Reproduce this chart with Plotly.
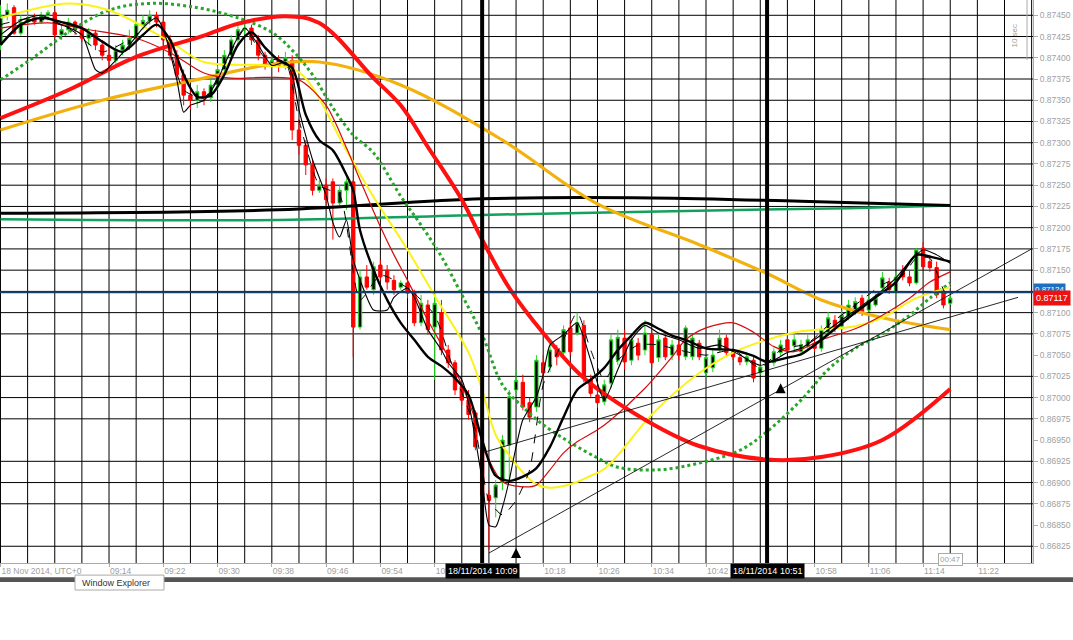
import plotly.graph_objects as go

# ---------------- data (prices in points of 0.00001) ----------------
START = "08:58"  # time of first 1-minute candle

open_pts = [87415,87450,87459,87429,87442,87447,87442,87450,87453,87427,
            87433,87442,87433,87423,87429,87415,87403,87397,87409,87415,
            87423,87439,87444,87450,87442,87421,87403,87380,87356,87350,
            87360,87353,87368,87386,87403,87421,87433,87435,87421,87403,
            87391,87397,87391,87397,87315,87297,87274,87244,87250,87254,
            87229,87244,87254,87083,87142,87127,87156,87150,87138,87130,
            87135,87123,87088,87109,87083,87100,87056,87041,87013,86997,
            86982,86938,86885,86882,86900,86944,87009,87018,86994,86989,
            87041,87036,87056,87053,87082,87076,87085,87021,87003,86995,
            87017,87044,87070,87044,87064,87056,87074,87047,87070,87050,
            87062,87048,87048,87064,87029,87035,87056,87070,87054,87047,
            87042,87044,87029,87035,87041,87053,87068,87061,87054,87060,
            87064,87058,87077,87091,87084,87096,87101,87117,87103,87109,
            87129,87136,87124,87148,87142,87135,87176,87160,87153,87123,
            87111]
high_pts = [87462,87464,87462,87450,87454,87452,87454,87456,87456,87439,
            87447,87444,87439,87435,87433,87421,87415,87415,87421,87433,
            87444,87450,87456,87454,87447,87427,87409,87386,87364,87368,
            87364,87374,87391,87409,87427,87439,87442,87439,87427,87407,
            87403,87403,87407,87403,87327,87303,87280,87256,87258,87258,
            87250,87258,87256,87150,87156,87160,87162,87156,87144,87138,
            87138,87127,87121,87115,87121,87115,87062,87044,87017,87009,
            86985,86944,86891,86903,86956,87009,87033,87027,87000,87050,
            87050,87062,87062,87085,87091,87100,87091,87027,87009,87021,
            87074,87080,87080,87074,87070,87091,87080,87074,87076,87068,
            87068,87085,87074,87068,87050,87056,87080,87074,87058,87050,
            87054,87050,87038,87044,87058,87068,87074,87074,87068,87074,
            87070,87085,87101,87097,87103,87115,87118,87121,87120,87122,
            87148,87141,87148,87156,87150,87176,87183,87168,87160,87129,
            87121]
low_pts = [87409,87444,87427,87426,87437,87439,87440,87444,87423,87421,
           87428,87427,87419,87415,87409,87397,87388,87393,87403,87409,
           87419,87433,87439,87436,87415,87397,87374,87344,87339,87341,
           87344,87348,87362,87380,87397,87415,87427,87415,87397,87386,
           87388,87383,87386,87303,87286,87262,87238,87241,87227,87186,
           87223,87221,87048,87080,87127,87121,87138,87127,87121,87127,
           87117,87084,87084,87074,87021,87050,87035,87003,86991,86974,
           86938,86879,86821,86859,86891,86903,87003,86985,86971,86983,
           87021,87030,87038,87047,87050,87073,87018,87001,86988,86991,
           87011,87038,87033,87038,87044,87050,87035,87042,87044,87044,
           87044,87044,87044,87044,87023,87030,87054,87049,87044,87038,
           87038,87018,87027,87030,87037,87049,87053,87056,87049,87056,
           87054,87054,87073,87077,87080,87091,87097,87096,87101,87107,
           87124,87122,87121,87138,87131,87133,87150,87148,87117,87105,
           87109]
close_pts = [87450,87456,87429,87442,87447,87442,87450,87453,87427,87433,
             87442,87433,87423,87429,87415,87403,87397,87409,87415,87423,
             87439,87444,87450,87442,87421,87403,87380,87356,87350,87360,
             87353,87368,87386,87403,87421,87433,87435,87421,87403,87391,
             87397,87391,87400,87315,87297,87274,87244,87250,87233,87229,
             87244,87254,87083,87142,87130,87154,87142,87136,87127,87135,
             87123,87088,87111,87080,87111,87056,87041,87009,86997,86980,
             86942,86885,86879,86897,86950,87001,87020,86989,86977,87044,
             87029,87056,87048,87080,87054,87088,87023,87005,86994,87015,
             87068,87071,87042,87068,87050,87076,87041,87068,87048,87062,
             87050,87082,87070,87048,87047,87050,87070,87053,87048,87042,
             87048,87023,87036,87041,87054,87062,87056,87068,87062,87068,
             87058,87080,87094,87082,87097,87109,87113,87101,87115,87117,
             87141,87127,87142,87142,87135,87174,87154,87153,87121,87109,
             87117]

# indicator lines: minute index -> value (points)
slow_red_idx = [0,10,20,30,35,42,47,55,59,63,68,71,75,80,86,95,103,113,121,130,140]
slow_red_pts = [87329,87362,87401,87426,87440,87449,87441,87376,87344,87295,87233,
                87186,87129,87076,87023,86974,86943,86927,86930,86950,87010]

orange_idx = [0,15,30,39,47,59,74,88,103,113,121,130,140]
orange_pts = [87315,87350,87376,87391,87395,87368,87303,87228,87180,87146,87115,87094,87080]

yellow_idx = [0,10,16,25,30,39,44,51,55,60,64,69,71,73,75,77,79,81,84,87,89,91,96,
              103,108,113,118,126,130,135,140]
yellow_pts = [87447,87464,87456,87419,87395,87391,87383,87291,87236,87174,87120,87053,
              87009,86956,86932,86912,86898,86894,86898,86908,86916,86932,86980,87029,
              87053,87068,87078,87084,87094,87117,87130]

gdot_idx = [0,5,10,16,22,29,35,40,43,46,49,52,55,59,62,65,68,71,74,77,80,84,88,91,97,
            103,109,113,118,122,126,130,134,137,140]
gdot_pts = [87374,87401,87430,87456,87464,87459,87447,87430,87409,87380,87341,87309,
            87288,87237,87203,87166,87121,87074,87015,86989,86968,86947,86929,86918,
            86915,86923,86938,86960,86997,87033,87058,87075,87097,87117,87135]

thin_red_idx = [0,7,13,20,25,30,34,39,44,48,51,53,56,58,60,63,66,68,70,72,74,77,79,81,
                83,85,88,90,95,99,101,104,108,111,114,117,121,126,130,134,137,140]
thin_red_pts = [87435,87441,87433,87423,87406,87382,87376,87377,87374,87344,87294,87256,
                87201,87168,87138,87091,87048,87015,86974,86927,86901,86895,86897,86915,
                86935,86948,86962,86974,87011,87048,87068,87082,87088,87077,87060,87054,
                87068,87081,87097,87117,87136,87148]

black_ma_idx = [0,3,6,9,12,15,18,21,23,25,27,29,31,33,35,37,39,41,43,45,47,49,51,52,53,
                55,57,59,61,63,65,67,69,71,73,75,77,79,81,83,85,87,89,91,93,95,97,99,101,
                104,108,111,113,116,118,121,125,129,132,135,137,140]
black_ma_pts = [87415,87439,87447,87442,87435,87419,87407,87427,87439,87421,87380,87354,
                87356,87380,87415,87430,87412,87397,87388,87333,87303,87291,87262,87244,
                87197,87150,87115,87088,87068,87048,87037,87023,87003,86950,86908,86902,
                86907,86917,86942,86977,87009,87021,87035,87056,87073,87088,87081,87073,
                87068,87058,87056,87049,87042,87047,87051,87068,87094,87118,87136,87168,
                87166,87160]

thin_black_idx = [0,3,6,9,12,14,15,17,19,21,23,24,26,27,28,30,32,34,36,38,40,42,43,44,46,
                  48,49,50,51,52,54,55,57,58,60,61,63,65,66,68,69,71,72,73,74,75,76,77,79,
                  80,81,83,85,87,89,91,93,95,97,100,103,106,109,112,114,116,118,121,125,
                  129,132,134,136,138,140]
thin_black_pts = [87427,87444,87450,87439,87427,87386,87382,87397,87415,87435,87447,87433,
                  87374,87336,87344,87350,87374,87409,87435,87415,87391,87395,87380,87339,
                  87280,87238,87206,87189,87209,87162,87118,87103,87103,87118,87129,87118,
                  87080,87056,87041,87021,86994,86903,86850,86848,86871,86903,86942,86974,
                  87001,87027,87062,87074,87088,87044,86997,87033,87068,87085,87076,87068,
                  87058,87062,87050,87038,87044,87053,87058,87074,87097,87120,87141,87160,
                  87174,87168,87158]

dash_idx = [0,5,10,15,20,22,24,27,30,33,36,39,42,44,47,50,53,56,60,64,67,70,72,74,76,78,
            80,83,85,87,89,91,94,97,100,104,108,112,115,119,122,126,130,133,135,137,139,140]
dash_pts = [87439,87447,87435,87407,87427,87444,87433,87362,87353,87391,87433,87400,87395,
            87327,87250,87238,87115,87144,87129,87097,87027,86962,86879,86862,86879,86915,
            87015,87068,87100,87056,87021,87044,87062,87062,87056,87050,87056,87035,87056,
            87064,87085,87109,87133,87144,87164,87164,87127,87115]

long_black_idx = [0,41,71,96,118,140]
long_black_pts = [87217,87221,87234,87235,87231,87226]
long_green_idx = [0,41,71,103,125,140]
long_green_pts = [87210,87209,87215,87220,87223,87226]

trend_up_t = ["10:10", "11:30"]
trend_up_pts = [86817, 87175]
trend_lo_t = ["10:09", "11:28"]
trend_lo_pts = [86935, 87118]

arrow_t = ["10:14", "10:53"]
arrow_pts = [86823, 87017]

vline_t = ["10:09", "10:51"]
vline_text = ["18/11/2014 10:09", "18/11/2014 10:51"]

blue_level = 87124
bid_price = 87117

x_tick_t = ["08:58","09:14","09:22","09:30","09:38","09:46","09:54","10:02","10:10",
            "10:18","10:26","10:34","10:42","10:50","10:58","11:06","11:14","11:22"]
x_tick_text = ["18 Nov 2014, UTC+0","09:14","09:22","09:30","09:38","09:46","09:54",
               "10:02","","10:18","10:26","10:34","10:42","","10:58","11:06",
               "11:14","11:22"]
y_tick_pts = [86825,86850,86875,86900,86925,86950,86975,87000,87025,87050,87075,87100,
              87150,87175,87200,87225,87250,87275,87300,87325,87350,87375,87400,87425,87450]
y_grid_pts = [86825,86875,86900,86925,86975,87000,87025,87075,87100,87125,87150,87175,
              87200,87225,87250,87275,87300,87325,87350,87375,87400,87425,87450]
x_grid_step = 4  # minutes between vertical grid lines
x_range_t = ["08:58", "11:30"]


def to_idx(hm):
    h, m = map(int, hm.split(":"))
    sh, sm = map(int, START.split(":"))
    return (h * 60 + m) - (sh * 60 + sm)


def P(v):
    if isinstance(v, list):
        return [p / 100000 for p in v]
    return v / 100000


FONT = "Liberation Sans"
GRAY = "#a0a0a0"

fig = go.Figure()

fig.add_trace(go.Candlestick(
    x=list(range(len(close_pts))),
    open=P(open_pts), high=P(high_pts), low=P(low_pts), close=P(close_pts),
    increasing=dict(line=dict(color="#22d822", width=1), fillcolor="#000000"),
    decreasing=dict(line=dict(color="#ff0000", width=1), fillcolor="#ff0000"),
    whiskerwidth=0, showlegend=False, hoverinfo="skip"))


def add_line(idx, pts, color, width, dash="solid", shape="spline", smooth=1.0):
    fig.add_trace(go.Scatter(
        x=idx, y=P(pts), mode="lines",
        line=dict(color=color, width=width, dash=dash, shape=shape,
                  smoothing=smooth if shape == "spline" else None),
        showlegend=False, hoverinfo="skip"))


add_line(long_green_idx, long_green_pts, "#12a05a", 2.5)
add_line(long_black_idx, long_black_pts, "#000000", 3)
add_line(orange_idx, orange_pts, "#f2b10c", 3.2)
add_line(gdot_idx, gdot_pts, "#2aa52a", 3, dash="dot")
add_line(yellow_idx, yellow_pts, "#fbf21a", 2)
add_line(thin_red_idx, thin_red_pts, "#d40d0d", 1.2, smooth=0.8)
add_line(slow_red_idx, slow_red_pts, "#ff1111", 4)
add_line(dash_idx, dash_pts, "#000000", 1, dash="dash", smooth=0.6)
add_line(thin_black_idx, thin_black_pts, "#000000", 1.1, smooth=0.6)
add_line(black_ma_idx, black_ma_pts, "#000000", 2.4, smooth=0.8)

# trend lines
fig.add_trace(go.Scatter(x=[to_idx(t) for t in trend_up_t], y=P(trend_up_pts), mode="lines",
                         line=dict(color="#111111", width=0.9), showlegend=False, hoverinfo="skip"))
fig.add_trace(go.Scatter(x=[to_idx(t) for t in trend_lo_t], y=P(trend_lo_pts), mode="lines",
                         line=dict(color="#111111", width=0.9), showlegend=False, hoverinfo="skip"))
# arrows
fig.add_trace(go.Scatter(x=[to_idx(t) for t in arrow_t], y=P(arrow_pts), mode="markers",
                         marker=dict(symbol="arrow-up", size=10, color="#000000"),
                         showlegend=False, hoverinfo="skip"))

shapes = []
# grid
g0, g1 = to_idx(x_range_t[0]), to_idx(x_range_t[1])
for gx in range(g0, g1 + 1, x_grid_step):
    shapes.append(dict(type="line", xref="x", yref="paper", x0=gx, x1=gx, y0=0, y1=1,
                       line=dict(color="#000000", width=1), layer="below"))
for gy in y_grid_pts:
    shapes.append(dict(type="line", xref="paper", yref="y", x0=0, x1=1, y0=P(gy), y1=P(gy),
                       line=dict(color="#000000", width=1), layer="below"))
# blue level line
shapes.append(dict(type="line", xref="paper", yref="y", x0=0, x1=1, y0=P(blue_level),
                   y1=P(blue_level), line=dict(color="#16406e", width=2), layer="above"))
# bold vertical lines
for t in vline_t:
    shapes.append(dict(type="line", xref="x", yref="paper", x0=to_idx(t), x1=to_idx(t),
                       y0=0, y1=1, line=dict(color="#000000", width=4), layer="above"))
# bottom dark bar and tab
shapes.append(dict(type="rect", xref="paper", yref="paper", x0=-0.01, x1=1.05,
                   y0=-0.0337, y1=-0.0255, fillcolor="#555555", line=dict(width=0)))
shapes.append(dict(type="rect", xref="paper", yref="paper", x0=75 / 1033, x1=164 / 1033,
                   y0=-0.048, y1=-0.0215, fillcolor="#ffffff", line=dict(color="#aaaaaa", width=1)))
# "10 sec" marker line
shapes.append(dict(type="line", xref="paper", yref="paper", x0=1027 / 1033, x1=1027 / 1033,
                   y0=1, y1=(563 - 60) / 563, line=dict(color="#aaaaaa", width=1)))

annotations = []
for t, txt in zip(vline_t, vline_text):
    annotations.append(dict(x=to_idx(t), y=0, xref="x", yref="paper", yanchor="top",
                            xanchor="center", text=txt, showarrow=False, bgcolor="#000000",
                            font=dict(color="#ffffff", size=9, family=FONT), borderpad=2))
annotations.append(dict(x=1, y=P(blue_level), xref="paper", yref="y", xanchor="left",
                        yanchor="middle", yshift=3, text="0.87124", showarrow=False,
                        bgcolor="#1f6fc0", font=dict(color="#ffffff", size=8, family=FONT),
                        borderpad=1))
annotations.append(dict(x=1, y=P(bid_price), xref="paper", yref="y", xanchor="left",
                        yanchor="middle", text="0.%d" % bid_price, showarrow=False,
                        bgcolor="#ee1111", font=dict(color="#ffffff", size=9, family=FONT),
                        borderpad=2))
annotations.append(dict(x=len(close_pts) - 1, y=0, xref="x", yref="paper", yanchor="middle",
                        xanchor="center", yshift=4, text="00:47", showarrow=False,
                        bgcolor="#ffffff", bordercolor="#aaaaaa", borderwidth=1,
                        font=dict(color=GRAY, size=8, family=FONT), borderpad=1))
annotations.append(dict(x=1020 / 1033, y=(563 - 22) / 563, xref="paper", yref="paper",
                        text="10 sec", textangle=-90, showarrow=False,
                        font=dict(color=GRAY, size=8, family=FONT)))
annotations.append(dict(x=80 / 1033, y=-0.035, xref="paper", yref="paper", xanchor="left",
                        yanchor="middle", text="Window Explorer", showarrow=False,
                        font=dict(color="#333333", size=9, family=FONT)))

fig.update_layout(
    width=1073, height=640, autosize=False,
    margin=dict(l=0, r=40, t=0, b=77, pad=0),
    paper_bgcolor="#ffffff", plot_bgcolor="#ffffff",
    showlegend=False, hovermode=False,
    shapes=shapes, annotations=annotations,
    font=dict(family=FONT, size=9, color=GRAY),
)
fig.update_xaxes(
    range=[-0.07, to_idx(x_range_t[1]) + 0.2], rangeslider=dict(visible=False),
    tickmode="array", tickvals=[to_idx(t) for t in x_tick_t], ticktext=x_tick_text,
    ticks="outside", ticklen=3, tickcolor="#aaaaaa", ticklabelposition="outside right",
    tickfont=dict(size=8.5, color=GRAY, family=FONT), automargin=False,
    showgrid=False, zeroline=False, showline=True, linecolor="#aaaaaa", linewidth=1,
)
fig.update_yaxes(
    range=[0.868053, 0.87468], side="right", automargin=False,
    tickmode="array", tickvals=P(y_tick_pts), ticktext=["%.5f" % P(v) for v in y_tick_pts],
    ticks="outside", ticklen=4, tickcolor="#aaaaaa",
    tickfont=dict(size=8.5, color=GRAY, family=FONT),
    showgrid=False, zeroline=False, showline=True, linecolor="#aaaaaa", linewidth=1,
)

fig.write_html("out.html", config={"displayModeBar": False},
               post_script="document.body.style.margin='0px';document.body.style.overflow='hidden';")
